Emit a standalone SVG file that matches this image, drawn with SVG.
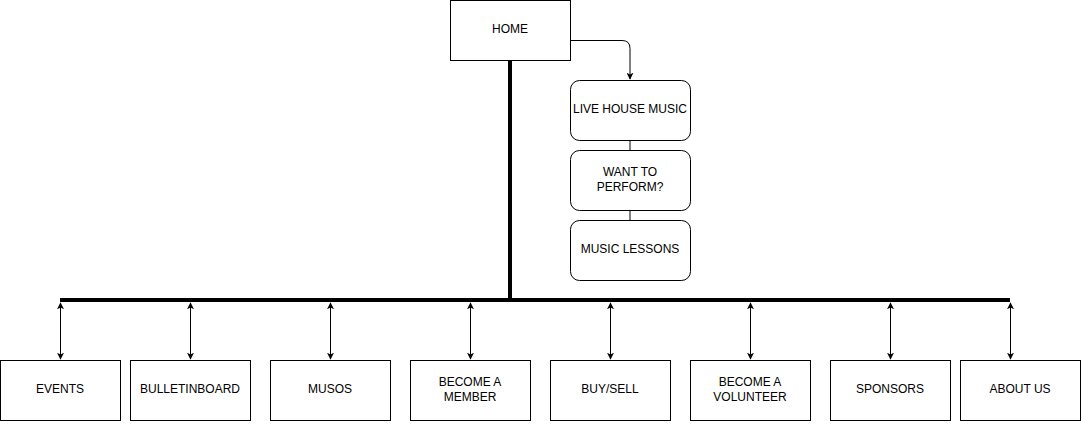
<svg xmlns="http://www.w3.org/2000/svg" width="1082" height="424" viewBox="0 0 1082 424">
<style>
.box{fill:#fff;stroke:#000;stroke-width:1}
.t{font-family:"Liberation Sans",Arial,sans-serif;font-size:12px;fill:#000;text-anchor:middle;dominant-baseline:central}
.ln{fill:none;stroke:#000;stroke-width:1}
.thick{fill:none;stroke:#000;stroke-width:4}
</style>
<defs>
<marker id="ah" viewBox="0 0 10 10" refX="9" refY="5" markerWidth="7" markerHeight="7" markerUnits="userSpaceOnUse" orient="auto-start-reverse">
<path d="M0,0 L10,5 L0,10 L2.5,5 Z" fill="#000"/>
</marker>
</defs>
<rect width="1082" height="424" fill="#fff"/>
<g id="connectors">
<path class="thick" d="M510,60 V300"/>
<path class="thick" d="M60,300 H1010"/>
<path class="ln" d="M570.5,40.5 H622 Q630,40.5 630,48.5 V79" marker-end="url(#ah)"/>
<path class="ln" d="M630,140 V150 M630,210 V220"/>
<path class="ln" d="M60.5,303 V359" marker-start="url(#ah)" marker-end="url(#ah)"/>
<path class="ln" d="M190.5,303 V359" marker-start="url(#ah)" marker-end="url(#ah)"/>
<path class="ln" d="M330.5,303 V359" marker-start="url(#ah)" marker-end="url(#ah)"/>
<path class="ln" d="M470.5,303 V359" marker-start="url(#ah)" marker-end="url(#ah)"/>
<path class="ln" d="M610.5,303 V359" marker-start="url(#ah)" marker-end="url(#ah)"/>
<path class="ln" d="M750.5,303 V359" marker-start="url(#ah)" marker-end="url(#ah)"/>
<path class="ln" d="M890.5,303 V359" marker-start="url(#ah)" marker-end="url(#ah)"/>
<path class="ln" d="M1010.5,303 V359" marker-start="url(#ah)" marker-end="url(#ah)"/>
</g>
<g id="home"><rect class="box" x="450.5" y="0.5" width="120" height="60"/><text class="t" x="510" y="29">HOME</text></g>
<g id="live"><rect class="box" x="570.5" y="80.5" width="120" height="60" rx="9"/><text class="t" x="630" y="109">LIVE HOUSE MUSIC</text></g>
<g id="perform"><rect class="box" x="570.5" y="150.5" width="120" height="60" rx="9"/><text class="t" x="630" y="172">WANT TO</text><text class="t" x="630" y="187">PERFORM?</text></g>
<g id="lessons"><rect class="box" x="570.5" y="220.5" width="120" height="60" rx="9"/><text class="t" x="630" y="249">MUSIC LESSONS</text></g>
<g id="events"><rect class="box" x="0.5" y="360.5" width="120" height="60"/><text class="t" x="60" y="389">EVENTS</text></g>
<g id="bulletin"><rect class="box" x="130.5" y="360.5" width="120" height="60"/><text class="t" x="190" y="389">BULLETINBOARD</text></g>
<g id="musos"><rect class="box" x="270.5" y="360.5" width="120" height="60"/><text class="t" x="330" y="389">MUSOS</text></g>
<g id="member"><rect class="box" x="410.5" y="360.5" width="120" height="60"/><text class="t" x="470" y="382">BECOME A</text><text class="t" x="470" y="397">MEMBER</text></g>
<g id="buysell"><rect class="box" x="550.5" y="360.5" width="120" height="60"/><text class="t" x="610" y="389">BUY/SELL</text></g>
<g id="volunteer"><rect class="box" x="690.5" y="360.5" width="120" height="60"/><text class="t" x="750" y="382">BECOME A</text><text class="t" x="750" y="397">VOLUNTEER</text></g>
<g id="sponsors"><rect class="box" x="830.5" y="360.5" width="120" height="60"/><text class="t" x="890" y="389">SPONSORS</text></g>
<g id="about"><rect class="box" x="960.5" y="360.5" width="120" height="60"/><text class="t" x="1020" y="389">ABOUT US</text></g>
</svg>
